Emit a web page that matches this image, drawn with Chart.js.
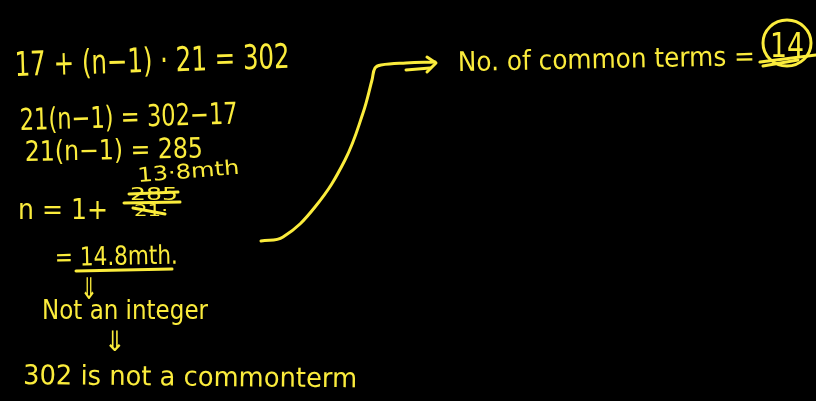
<!DOCTYPE html>
<html>
<head>
<meta charset="utf-8">
<script src="https://cdn.jsdelivr.net/npm/chart.js@4"></script>
<style>
  html, body { margin: 0; padding: 0; background: #000; overflow: hidden; }
  canvas { display: block; }
</style>
</head>
<body>
<canvas id="lavagna" width="816" height="401"></canvas>
<script>
// testi scritti a mano
var righeTesto = ['17 + (n\u22121) \u00b7 21 = 302', '21(n\u22121) = 302\u221217', '21(n\u22121) = 285', '13\u00b78mth',
    'n = 1+', '285', '21\u00b7', '= 14.8mth.', '\u21d3', 'Not an integer', '\u21d3', '302 is not a commonterm',
    'No. of common terms =', '14'];

// freccia curva che porta al risultato
var curvaX = [261, 283, 315, 345, 363, 372, 375, 381, 406, 435];
var curvaY = [241, 237, 207, 160, 113, 80, 68, 65, 63, 62];
var frecciaX = [406, 430];
var frecciaY = [70, 68];
var puntaX = [427, 436, 427];
var puntaY = [57, 63, 72];

// tratti: sottolineature, linea di frazione, cancellature
var trattoFrazioneX = [124, 180];
var trattoFrazioneY = [203, 202];
var sottolineaX = [76, 172];
var sottolineaY = [271, 269];
var cancella1X = [129, 178];
var cancella1Y = [194, 192];
var cancella2X = [133, 165];
var cancella2Y = [208, 214];
var doppia1X = [760, 816];
var doppia1Y = [62, 55];
var doppia2X = [763, 798];
var doppia2Y = [66, 60];

var giallo = '#fbec3c';

function punti(xs, ys) {
    var out = [];
    for (var i = 0; i < xs.length; i++) {
        out.push({x: xs[i], y: ys[i]});
    }
    return out;
}

function tratto(xs, ys, tensione) {
    return {
        data: punti(xs, ys),
        showLine: true,
        borderColor: giallo,
        borderWidth: 3,
        pointRadius: 0,
        tension: tensione || 0,
        borderCapStyle: 'round',
        borderJoinStyle: 'round'
    };
}

// posizioni: x, linea di base, larghezza, dimensione font, rotazione
var posizioni = [
    [15, 76, 275, 34, -0.03],
    [20, 130, 218, 30, -0.03],
    [25, 161, 178, 28, -0.02],
    [138, 182, 102, 20, -0.08],
    [18, 219, 90, 28, 0],
    [130, 200, 48, 17, 0],
    [134, 216, 34, 15, 0],
    [55, 266, 123, 26, -0.02],
    [80, 299, 18, 30, 0],
    [42, 319, 166, 26, 0],
    [104, 351, 22, 28, 0],
    [23, 384, 334, 27, 0.01],
    [458, 71, 297, 27, -0.02],
    [770, 57, 34, 34, 0]
];

var testoPlugin = {
    id: 'testoPlugin',
    afterDatasetsDraw: function (chart) {
        var ctx = chart.ctx;
        ctx.save();
        ctx.fillStyle = giallo;
        ctx.textBaseline = 'alphabetic';
        for (var i = 0; i < righeTesto.length; i++) {
            var p = posizioni[i];
            ctx.font = p[3] + 'px "DejaVu Sans"';
            var w = ctx.measureText(righeTesto[i]).width;
            ctx.save();
            ctx.translate(p[0], p[1]);
            ctx.rotate(p[4]);
            ctx.scale(p[2] / w, 1);
            ctx.fillText(righeTesto[i], 0, 0);
            ctx.restore();
        }
        // cerchio attorno al 14
        ctx.strokeStyle = giallo;
        ctx.lineWidth = 3;
        ctx.beginPath();
        ctx.ellipse(787, 43, 24, 23, 0, 0, Math.PI * 2);
        ctx.stroke();
        ctx.restore();
    }
};

var ctx = document.getElementById('lavagna');
var chart = new Chart(ctx, {
    type: 'scatter',
    data: {
        datasets: [
            tratto(curvaX, curvaY, 0.4),
            tratto(frecciaX, frecciaY),
            tratto(puntaX, puntaY),
            tratto(trattoFrazioneX, trattoFrazioneY),
            tratto(sottolineaX, sottolineaY),
            tratto(cancella1X, cancella1Y),
            tratto(cancella2X, cancella2Y),
            tratto(doppia1X, doppia1Y),
            tratto(doppia2X, doppia2Y)
        ]
    },
    options: {
        responsive: false,
        animation: false,
        layout: { padding: 0 },
        plugins: { legend: { display: false }, tooltip: { enabled: false } },
        scales: {
            x: { type: 'linear', min: 0, max: 816, display: false },
            y: { type: 'linear', min: 0, max: 401, reverse: true, display: false }
        }
    },
    plugins: [testoPlugin]
});
</script>
</body>
</html>
